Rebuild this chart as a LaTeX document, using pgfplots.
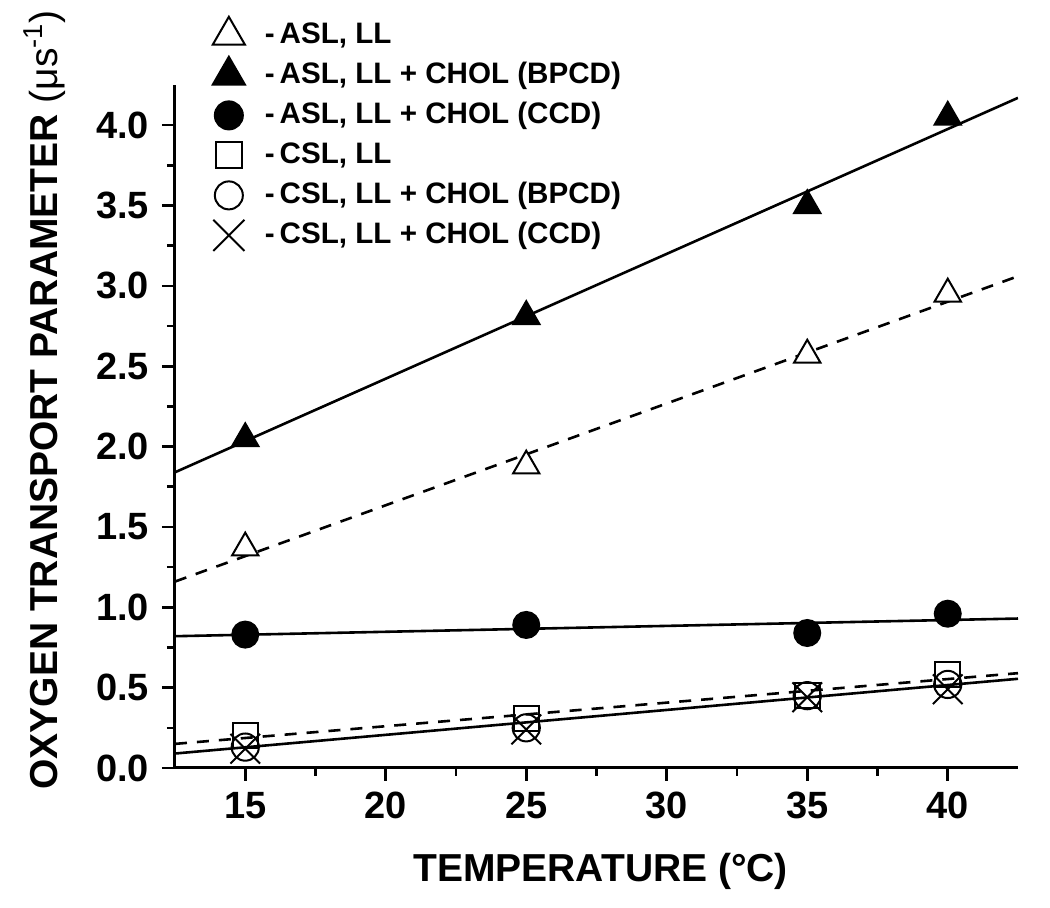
\documentclass[border=0pt]{standalone}
\usepackage{pgfplots}
\pgfplotsset{compat=1.18}
\usepackage{fontspec}
\setmainfont{Liberation Sans}
\pgfplotsset{limg/.style={legend image code/.code={\draw[##1, mark size=#1] plot coordinates {(0.3cm,0cm)};}}}
\begin{document}
\begin{tikzpicture}
\begin{axis}[
  scale only axis, width=421.5pt, height=341.5pt,
  xmin=12.5, xmax=42.5, ymin=0, ymax=4.25,
  axis x line*=bottom, axis y line*=left,
  axis line style={line width=1.5pt, -},
  xtick={15,20,...,40}, minor x tick num=1,
  ytick={0,0.5,...,4}, minor y tick num=1,
  tick align=outside, major tick length=6.5pt, minor tick length=4pt,
  every tick/.style={black, line width=1.3pt},
  /pgf/number format/assume math mode=true,
  ticklabel style={font=\fontsize{19}{22}\selectfont\bfseries},
  x tick label style={yshift=-2pt},
  y tick label style={xshift=-3pt, /pgf/number format/.cd, fixed, fixed zerofill, precision=1},
  xlabel={\bfseries TEMPERATURE (°C)},
  ylabel={\bfseries OXYGEN TRANSPORT PARAMETER \mdseries(μs\textsuperscript{-1})},
  label style={font=\fontsize{19.5}{22}\selectfont},
  xlabel style={at={(rel axis cs:0.505,-0.151)}, anchor=center},
  ylabel style={at={(rel axis cs:-0.155,0.539)}, anchor=center},
  legend style={at={(0.0443,1.1025)}, anchor=north west, draw=none, fill=none,
    font=\fontsize{14.8}{17}\selectfont\bfseries, row sep=0pt, column sep=9pt, inner sep=0pt,
    nodes={inner sep=1pt, text height=13pt, text depth=5pt}},
  legend cell align=left,
]
% fit lines
\addplot[black, line width=1.3pt, dash pattern=on 6pt off 5pt, forget plot] coordinates {(12.5,1.16) (42.5,3.06)};
\addplot[black, line width=1.3pt, forget plot] coordinates {(12.5,1.84) (42.5,4.17)};
\addplot[black, line width=1.3pt, forget plot] coordinates {(12.5,0.82) (42.5,0.93)};
\addplot[black, line width=1.3pt, dash pattern=on 6pt off 5pt, forget plot] coordinates {(12.5,0.15) (42.5,0.59)};
\addplot[black, line width=1.3pt, forget plot] coordinates {(12.5,0.09) (42.5,0.555)};
% data
\addplot[only marks, mark=triangle*, mark size=7.6pt, mark options={draw=black, fill=white, line width=1pt}, limg=9.3pt] coordinates {(15,1.37) (25,1.88) (35,2.57) (40,2.95)};
\addlegendentry{-\,ASL, LL}
\addplot[only marks, mark=triangle*, mark size=7.6pt, mark options={draw=black, fill=black, line width=1pt}, limg=9.3pt] coordinates {(15,2.05) (25,2.81) (35,3.50) (40,4.05)};
\addlegendentry{-\,ASL, LL + CHOL (BPCD)}
\addplot[only marks, mark=*, mark size=6.5pt, mark options={draw=black, fill=black, line width=1pt}, limg=7pt] coordinates {(15,0.83) (25,0.89) (35,0.84) (40,0.96)};
\addlegendentry{-\,ASL, LL + CHOL (CCD)}
\addplot[only marks, mark=square, mark size=6.2pt, mark options={draw=black, line width=1pt}, limg=6.5pt] coordinates {(15,0.20) (25,0.31) (35,0.45) (40,0.58)};
\addlegendentry{-\,CSL, LL}
\addplot[only marks, mark=o, mark size=6.8pt, mark options={draw=black, line width=1pt}, limg=7pt] coordinates {(15,0.13) (25,0.25) (35,0.45) (40,0.52)};
\addlegendentry{-\,CSL, LL + CHOL (BPCD)}
\addplot[only marks, mark=x, mark size=10.5pt, mark options={draw=black, line width=1pt}, limg=11pt] coordinates {(15,0.12) (25,0.24) (35,0.44) (40,0.49)};
\addlegendentry{-\,CSL, LL + CHOL (CCD)}
\end{axis}
\path (-87.5pt,-70pt) rectangle (437.5pt,384pt);
\end{tikzpicture}
\end{document}
